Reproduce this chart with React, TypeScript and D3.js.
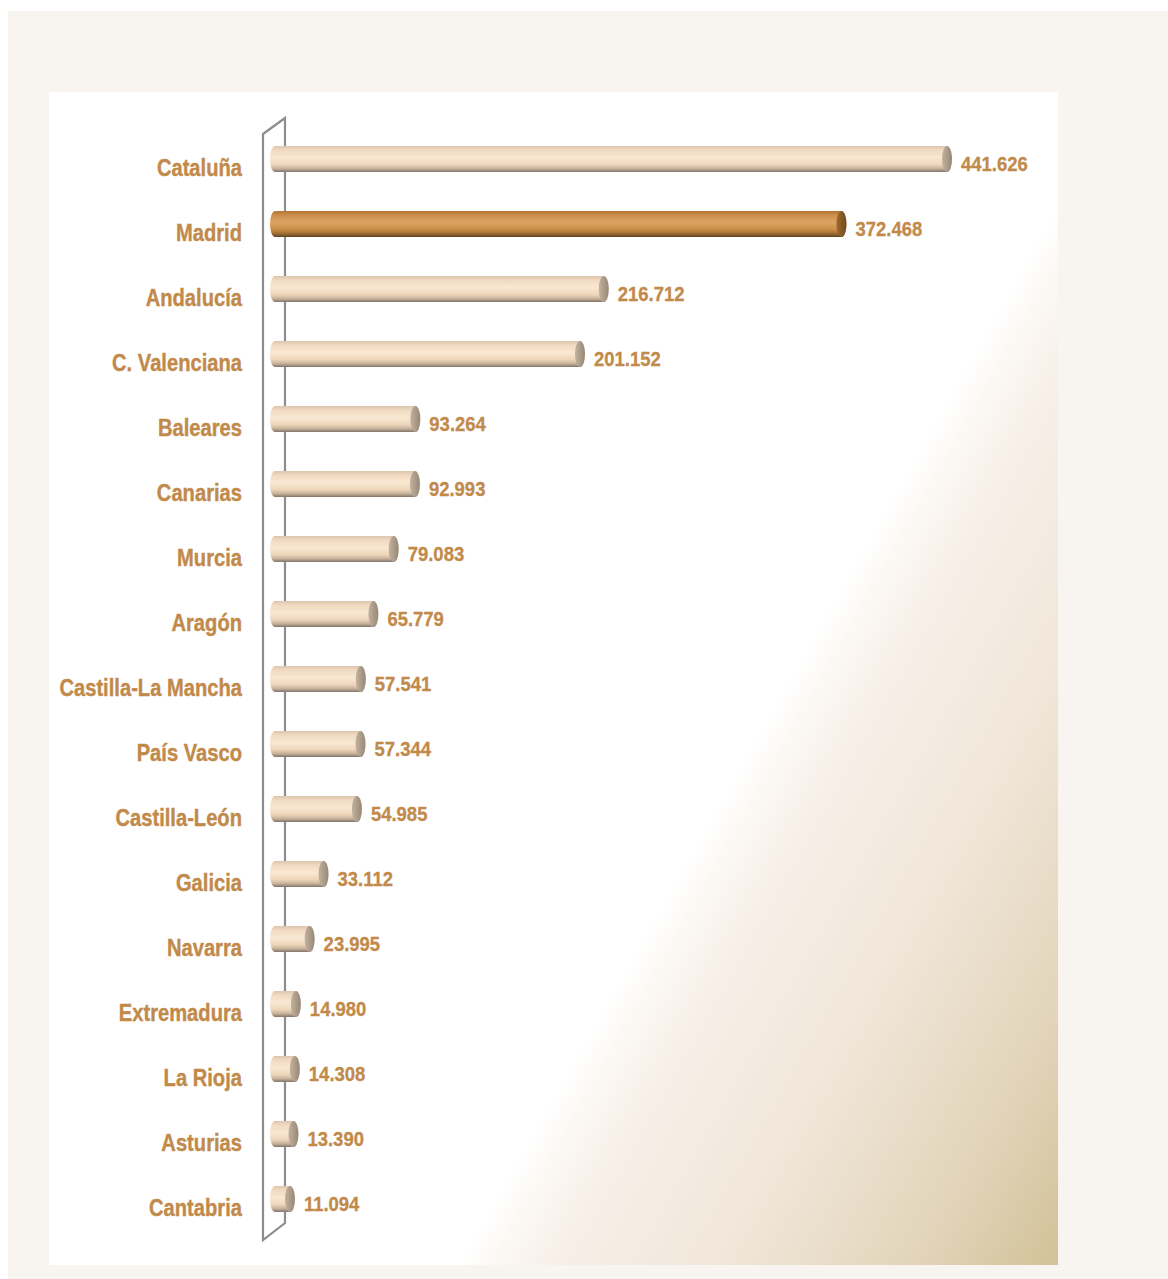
import { useMemo } from 'react';
import * as d3 from 'd3';

const regions = [
  'Cataluña',
  'Madrid',
  'Andalucía',
  'C. Valenciana',
  'Baleares',
  'Canarias',
  'Murcia',
  'Aragón',
  'Castilla-La Mancha',
  'País Vasco',
  'Castilla-León',
  'Galicia',
  'Navarra',
  'Extremadura',
  'La Rioja',
  'Asturias',
  'Cantabria',
];
const values = [
  441.626, 372.468, 216.712, 201.152, 93.264, 92.993, 79.083, 65.779, 57.541, 57.344, 54.985,
  33.112, 23.995, 14.98, 14.308, 13.39, 11.094,
];
const highlighted = 'Madrid';

const fmt = (v: number) => v.toFixed(3);

const W = 1168;
const H = 1279;
const textColor = '#c28a4a';
const font = "'Liberation Sans', Arial, sans-serif";

export default function App() {
  const y = useMemo(() => d3.scalePoint<string>().domain(regions).range([159, 1199]), []);
  const x = useMemo(() => d3.scaleLinear().domain([0, d3.max(values)!]).range([273, 947]), []);

  const r = 13; // half bar thickness
  const rx = 5; // cap ellipse radius
  const barStart = 270;
  const wallFront = 263;
  const wallBack = 285;
  const yFirst = y(regions[0])!;
  const yLast = y(regions[regions.length - 1])!;

  const wall = `M${wallFront},${yFirst - 25} L${wallBack},${yFirst - 41} L${wallBack},${yLast + 24} L${wallFront},${yLast + 41} Z`;

  return (
    <svg width={W} height={H} style={{ position: 'absolute', left: 0, top: 0 }}>
      <defs>
        <linearGradient id="corner" gradientUnits="userSpaceOnUse" x1="615" y1="990" x2="1068" y2="1246">
          <stop offset="0" stopColor="#ffffff" />
          <stop offset="0.05" stopColor="#fcf9f5" />
          <stop offset="0.16" stopColor="#f7efe8" />
          <stop offset="0.45" stopColor="#f0e6d8" />
          <stop offset="0.75" stopColor="#e2d5bb" />
          <stop offset="1" stopColor="#d2c298" />
        </linearGradient>
        <linearGradient id="cream" x1="0" y1="0" x2="0" y2="1">
          <stop offset="0" stopColor="#dcc5ac" />
          <stop offset="0.15" stopColor="#f0d9c0" />
          <stop offset="0.45" stopColor="#fae8d3" />
          <stop offset="0.72" stopColor="#edd5b9" />
          <stop offset="0.88" stopColor="#c4af98" />
          <stop offset="1" stopColor="#7f736a" />
        </linearGradient>
        <linearGradient id="brown" x1="0" y1="0" x2="0" y2="1">
          <stop offset="0" stopColor="#b57634" />
          <stop offset="0.2" stopColor="#cf9350" />
          <stop offset="0.45" stopColor="#dca464" />
          <stop offset="0.72" stopColor="#c88b45" />
          <stop offset="0.88" stopColor="#9a6a32" />
          <stop offset="1" stopColor="#5e4222" />
        </linearGradient>
        <linearGradient id="creamCap" x1="0" y1="0" x2="1" y2="0">
          <stop offset="0" stopColor="#c2b29e" />
          <stop offset="1" stopColor="#978776" />
        </linearGradient>
        <linearGradient id="brownCap" x1="0" y1="0" x2="1" y2="0">
          <stop offset="0" stopColor="#a06a2c" />
          <stop offset="1" stopColor="#6e4a1e" />
        </linearGradient>
      </defs>

      {/* page background */}
      <rect x={8} y={11} width={W - 8} height={H - 11} fill="#f8f4ef" />
      <rect x={49} y={92} width={1009} height={1173} fill="#ffffff" />
      <rect x={49} y={92} width={1009} height={1173} fill="url(#corner)" />

      {/* 3d wall */}
      <path d={wall} fill="none" stroke="#8d8d8d" strokeWidth={2.2} strokeLinejoin="miter" />

      {regions.map((name, i) => {
        const cy = y(name)!;
        const xe = x(values[i]);
        const xs = barStart + rx;
        const hl = name === highlighted;
        const body = `M${xs},${cy - r} L${xe},${cy - r} A${rx},${r} 0 0 1 ${xe},${cy + r} L${xs},${cy + r} A${rx},${r} 0 0 1 ${xs},${cy - r} Z`;
        return (
          <g key={name}>
            <text
              transform={`translate(242,${cy + 17}) scale(0.84,1)`}
              textAnchor="end"
              fontFamily={font}
              fontWeight="bold"
              fontSize={24}
              fill={textColor}
              stroke={textColor}
              strokeWidth={0.4}
            >
              {name}
            </text>
            <path d={body} fill={hl ? 'url(#brown)' : 'url(#cream)'} />
            <ellipse cx={xe} cy={cy} rx={rx} ry={r} fill={hl ? 'url(#brownCap)' : 'url(#creamCap)'} />
            <text
              transform={`translate(${xe + rx + 9},${cy + 12}) scale(0.88,1)`}
              fontFamily={font}
              fontWeight="bold"
              fontSize={21}
              fill={textColor}
              stroke={textColor}
              strokeWidth={0.3}
            >
              {fmt(values[i])}
            </text>
          </g>
        );
      })}
    </svg>
  );
}
